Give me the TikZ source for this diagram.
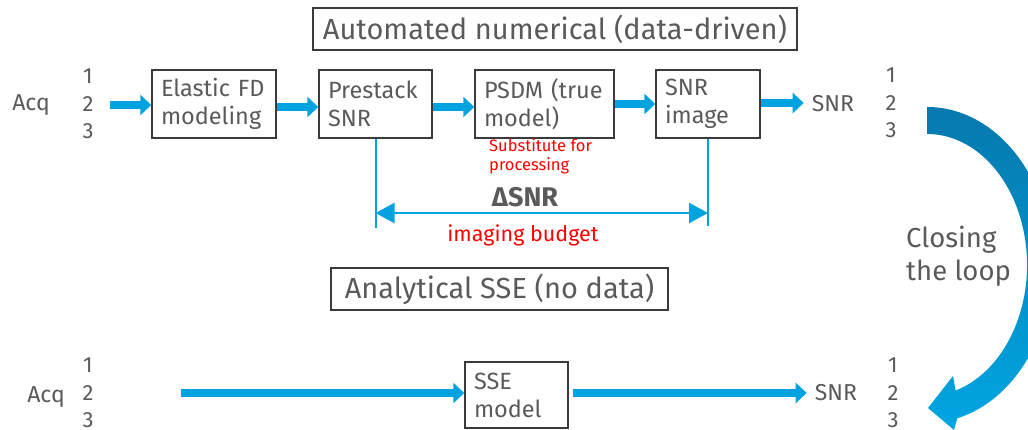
\documentclass[tikz,border=0pt]{standalone}
\usepackage{fontspec}
\setmainfont{Fira Sans}
\usetikzlibrary{arrows.meta}
\definecolor{txt}{HTML}{595A5C}
\definecolor{boxline}{HTML}{3A3A3A}
\definecolor{flow}{HTML}{00A3DF}
\definecolor{loopdark}{HTML}{0679AE}
\definecolor{looplight}{HTML}{00A6E2}
\definecolor{note}{HTML}{FF0000}
\tikzset{
  x=1pt, y=1pt,
  stage/.style={draw=boxline, line width=1.4pt, text=txt, align=left,
    inner xsep=9pt, inner ysep=0pt, font=\fontsize{23.5}{28}\selectfont},
  header/.style={draw=boxline, line width=1.4pt, text=txt, inner sep=0pt,
    font=\fontsize{29}{30}\selectfont},
  plain/.style={text=txt, inner sep=0pt, font=\fontsize{23}{27.5}\selectfont},
  digits/.style={text=txt, inner sep=0pt, align=center, font=\fontsize{22}{27.5}\selectfont},
  flowarrow/.style={draw=flow, line width=8.5pt, -{Triangle[length=11pt,width=20pt]}},
  budget/.style={draw=flow, line width=2.4pt, {Triangle[length=19pt,width=20pt]}-{Triangle[length=19pt,width=20pt]}},
  tick/.style={draw=flow, line width=2pt},
}
\begin{document}
\begin{tikzpicture}
\useasboundingbox (0,0) rectangle (1028,-430);
\clip (0,0) rectangle (1028,-430);

% headings
\node[header, minimum width=484pt, minimum height=42pt] (auto) at (555,-29) {Automated numerical (data-driven)};
\node[header, minimum width=337pt, minimum height=42pt] (anal) at (499.5,-289) {Analytical SSE (no data)};

% numerical chain
\node[plain] (acq1) at (31,-105) {Acq};
\node[digits] (in1) at (88,-104) {1\\2\\3};
\node[stage, text width=106pt, minimum height=68pt] (fd) at (214,-104) {Elastic FD\\modeling};
\node[stage, text width=95pt, minimum height=68pt] (pre) at (375.5,-104) {Prestack\\SNR};
\node[stage, text width=121pt, minimum height=68pt] (psdm) at (544.5,-104) {PSDM (true\\model)};
\node[stage, text width=86pt, minimum height=68pt] (img) at (708,-104) {SNR\\image};
\node[plain] (snr1) at (833,-104) {SNR};
\node[digits] (out1) at (891,-103) {1\\2\\3};

\coordinate (s1) at (110,-105);
\draw[flowarrow] (s1) -- (fd.west |- s1);
\draw[flowarrow] (fd.east |- 0,-107) -- (pre.west |- 0,-107);
\draw[flowarrow] (pre.east |- 0,-107) -- (psdm.west |- 0,-107);
\draw[flowarrow] (psdm.east |- 0,-104) -- (img.west |- 0,-104);
\draw[flowarrow] (img.east |- 0,-103) -- ([xshift=-8pt]snr1.west |- 0,-103);

% imaging budget span
\coordinate (preend) at (375.5,-228);
\coordinate (imgend) at (708,-226);
\draw[tick] (pre.south) -- (preend);
\draw[tick] (img.south) -- (imgend);
\coordinate (bl) at (375.5,-213);
\coordinate (br) at (708,-213);
\draw[budget] (bl) -- (br);

\node[text=note, anchor=west, align=left, inner sep=0pt, font=\fontsize{16.5}{19}\selectfont] (subst) at (489,-156) {Substitute for\\processing};
\node[text=txt, inner sep=0pt, font=\fontsize{27}{30}\selectfont\bfseries] (dsnr) at (525,-197) {ΔSNR};
\node[text=note, inner sep=0pt, font=\fontsize{21.5}{25}\selectfont] (ib) at (523,-235) {imaging budget};

% analytical chain
\node[plain] (acq2) at (46,-397) {Acq};
\node[digits] (in2) at (88,-393) {1\\2\\3};
\node[stage, text width=85pt, minimum height=66pt] (sse) at (516.5,-395) {SSE\\model};
\node[plain] (snr2) at (836,-393) {SNR};
\node[digits] (out2) at (893,-393) {1\\2\\3};
\coordinate (s2) at (181,-393);
\draw[flowarrow] (s2) -- (sse.west |- s2);
\coordinate (e2) at (573,-393);
\draw[flowarrow] (e2) -- ([xshift=-8pt]snr2.west |- e2);

% loop arrow
\shade[top color=loopdark, bottom color=looplight]
  (927,-107) arc[start angle=90, end angle=-76, x radius=125, y radius=158]
  -- (954,-430) -- (928,-408) -- (953,-376) -- (955.6,-390.5)
  arc[start angle=-73.4, end angle=90, x radius=100, y radius=131] -- cycle;
\node[text=txt, anchor=west, align=left, inner sep=0pt, font=\fontsize{27.5}{33}\selectfont] (loop) at (906,-256) {Closing\\the loop};
\end{tikzpicture}
\end{document}
